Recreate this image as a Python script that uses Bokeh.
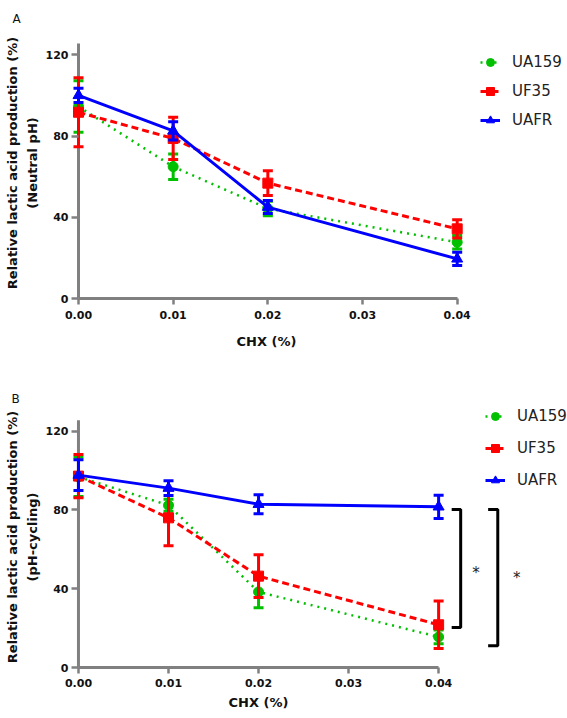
from bokeh.plotting import figure
from bokeh.models import Range1d, FixedTicker, Legend, LegendItem, Title
from bokeh.core.properties import value
from bokeh.layouts import column
from bokeh.embed import file_html
from bokeh.resources import INLINE

# ---------------- data ----------------
conc = [0.0, 0.01, 0.02, 0.04]
x_ticks = [0.0, 0.01, 0.02, 0.03, 0.04]
x_tick_labels = ["0.00", "0.01", "0.02", "0.03", "0.04"]
y_ticks = [0, 40, 80, 120]
y_tick_labels = ["0", "40", "80", "120"]
strains = ["UA159", "UF35", "UAFR"]
x_title = "CHX (%)"

a_ua159 = [94.5, 64.9, 44.3, 27.7]
a_ua159_err = [12.7, 6.3, 3.6, 3.3]
a_uf35 = [91.7, 78.8, 56.8, 34.3]
a_uf35_err = [17.0, 10.4, 6.1, 4.5]
a_uafr = [100.0, 82.5, 45.0, 19.5]
a_uafr_err = [3.5, 4.5, 3.2, 3.3]

b_ua159 = [96.8, 82.4, 38.4, 15.5]
b_ua159_err = [10.0, 3.0, 8.0, 3.5]
b_uf35 = [97.2, 76.0, 46.4, 21.7]
b_uf35_err = [11.0, 14.2, 10.9, 12.1]
b_uafr = [97.7, 91.1, 82.9, 81.6]
b_uafr_err = [7.8, 3.7, 4.8, 5.9]

# significance brackets (panel B)
sig_x0 = [0.04145, 0.0455]
sig_x1 = [0.04245, 0.04657]
sig_top = [80.2, 80.2]
sig_bottom = [20.3, 11.0]
sig_star_x = [0.04414, 0.04867]
sig_star_y = [48.0, 45.5]
sig_text = ["*", "*"]

y_axis_top = 125.6

# ---------------- styles ----------------
GREEN = "#00C000"
RED = "#FF0000"
BLUE = "#0000FF"
GRAY = "#808080"
styles = [
    dict(color=GREEN, dash="2 5", width=2.5, marker="circle", size=10),
    dict(color=RED, dash="7 4", width=3, marker="square", size=10),
    dict(color=BLUE, dash="solid", width=3, marker="triangle", size=11),
]
FONT = "DejaVu Sans"
W = 567


def build(letter, ytitle, series, height, left, top, bottom, px_per_001,
          px_per_unit_y, tick_standoff, xtitle_offset, xtitle_standoff,
          legend_loc, legend_spacing, legend_standoff, letter_standoff,
          letter_x):
    frame_w = W - left
    frame_h = height - top - bottom
    x_start = -7.0 / (px_per_001 / 0.01)
    x_end = x_start + frame_w / (px_per_001 / 0.01)
    y_end = frame_h / px_per_unit_y
    p = figure(width=W, height=height, output_backend="svg",
               toolbar_location=None, min_border_left=left,
               min_border_right=0, min_border_top=top,
               min_border_bottom=bottom,
               x_range=Range1d(x_start, x_end), y_range=Range1d(0, y_end))
    p.outline_line_color = None
    p.grid.visible = False
    p.background_fill_color = "white"

    p.title.text = letter
    p.title.align = "left"
    p.title.offset = letter_x - left
    p.title.vertical_align = "bottom"
    p.title.standoff = letter_standoff
    p.title.text_font = FONT
    p.title.text_font_style = "normal"
    p.title.text_font_size = "12px"
    p.title.text_color = "#111111"

    # x axis
    xa = p.xaxis[0]
    xa.bounds = (x_ticks[0], x_ticks[-1])
    xa.ticker = FixedTicker(ticks=x_ticks)
    xa.major_label_overrides = dict(zip(x_ticks, x_tick_labels))
    xa.minor_tick_line_color = None
    xa.axis_line_color = GRAY
    xa.axis_line_width = 3
    xa.major_tick_line_color = GRAY
    xa.major_tick_line_width = 2.5
    xa.major_tick_out = 6
    xa.major_tick_in = 0
    xa.major_label_standoff = tick_standoff
    xa.major_label_text_font = FONT
    xa.major_label_text_font_style = "bold"
    xa.major_label_text_font_size = "11px"
    xa.major_label_text_color = "#111111"

    # x-axis title, centred under the drawn axis (0 .. 0.04)
    xt = Title(text=x_title, align="left", offset=xtitle_offset,
               standoff=xtitle_standoff, vertical_align="top",
               text_font=FONT, text_font_style="bold",
               text_font_size="13px", text_color="#111111")
    p.add_layout(xt, "below")

    # y axis (its line is drawn at x = 0 as a segment)
    ya = p.yaxis[0]
    ya.bounds = (0, y_axis_top)
    ya.ticker = FixedTicker(ticks=y_ticks)
    ya.major_label_overrides = dict(zip(y_ticks, y_tick_labels))
    ya.minor_tick_line_color = None
    ya.axis_line_color = None
    ya.major_tick_line_color = GRAY
    ya.major_tick_line_width = 2.5
    ya.major_tick_out = 0
    ya.major_tick_in = 7
    ya.major_label_standoff = 3
    ya.major_label_text_font = FONT
    ya.major_label_text_font_style = "bold"
    ya.major_label_text_font_size = "11px"
    ya.major_label_text_color = "#111111"
    ya.axis_label = ytitle
    ya.axis_label_text_font = FONT
    ya.axis_label_text_font_style = "bold"
    ya.axis_label_text_font_size = "13px"
    ya.axis_label_text_color = "#111111"
    ya.axis_label_text_line_height = 1.3
    ya.axis_label_standoff = 3

    p.segment(x0=[x_ticks[0]], y0=[0], x1=[x_ticks[0]], y1=[y_axis_top],
              line_color=GRAY, line_width=3)

    items = []
    for name, (vals, errs), st in zip(strains, series, styles):
        upper = [v + e for v, e in zip(vals, errs)]
        lower = [v - e for v, e in zip(vals, errs)]
        lr = p.line(conc, vals, line_color=st["color"], line_width=st["width"],
                    line_dash=st["dash"])
        p.segment(x0=conc, y0=lower, x1=conc, y1=upper,
                  line_color=st["color"], line_width=3)
        p.scatter(conc, upper, marker="dash", size=10, line_color=st["color"],
                  line_width=3)
        p.scatter(conc, lower, marker="dash", size=10, line_color=st["color"],
                  line_width=3)
        mr = p.scatter(conc, vals, marker=st["marker"], size=st["size"],
                       fill_color=st["color"], line_color=st["color"])
        items.append(LegendItem(label=name, renderers=[lr, mr]))

    legend = Legend(items=items, location=legend_loc, glyph_width=20,
                    glyph_height=20, spacing=legend_spacing, padding=0,
                    margin=0, label_standoff=legend_standoff,
                    label_text_font=FONT, label_text_font_size="15px",
                    label_text_color="#222222", border_line_color=None,
                    background_fill_alpha=0)
    p.add_layout(legend)
    return p


p1 = build("A", "Relative lactic acid production (%)\n(Neutral pH)",
           [(a_ua159, a_ua159_err), (a_uf35, a_uf35_err), (a_uafr, a_uafr_err)],
           height=380, left=71, top=27, bottom=82,
           px_per_001=94.67, px_per_unit_y=2.031, tick_standoff=6,
           xtitle_offset=165, xtitle_standoff=24,
           legend_loc=(409, 168), legend_spacing=9,
           legend_standoff=12, letter_standoff=4, letter_x=12)

p2 = build("B", "Relative lactic acid production (%)\n(pH-cycling)",
           [(b_ua159, b_ua159_err), (b_uf35, b_uf35_err), (b_uafr, b_uafr_err)],
           height=337, left=69, top=26, bottom=50,
           px_per_001=90.4, px_per_unit_y=1.969, tick_standoff=5,
           xtitle_offset=157, xtitle_standoff=11,
           legend_loc=(414, 177), legend_spacing=12,
           legend_standoff=12, letter_standoff=1, letter_x=9)

# significance brackets
for x0, x1, yt, yb in zip(sig_x0, sig_x1, sig_top, sig_bottom):
    p2.line([x0, x1, x1, x0], [yt, yt, yb, yb], line_color="black",
            line_width=3)
p2.text(x=sig_star_x, y=sig_star_y, text=sig_text, text_font=value(FONT),
        text_font_size="15px", text_color="#222222", text_align="center",
        text_baseline="middle")

layout = column(p1, p2, spacing=0)
open("out.html", "w").write(file_html(layout, INLINE))
